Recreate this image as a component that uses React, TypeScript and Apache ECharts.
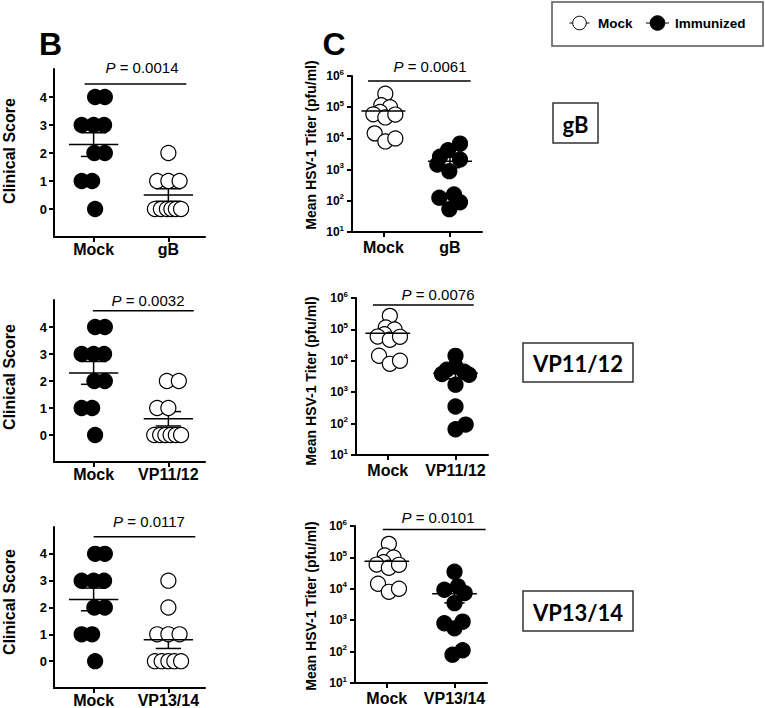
import React, { useEffect, useRef } from 'react';
import * as echarts from 'echarts';

const FONT = '"Liberation Sans", Arial, Helvetica, sans-serif';
const BOXFONT = 'Lato, "Open Sans", sans-serif';

// ---------- data ----------
const treatments = ['gB', 'VP11/12', 'VP13/14'];
const controlName = 'Mock';

// Panel B: clinical scores
const mockScores = [4, 4, 3, 3, 3, 2, 2, 1, 1, 0];
const mockScoreJitter = [0.02, 0.15, -0.16, 0, 0.14, 0.01, 0.15, -0.16, -0.02, 0.02];
const gbScores = [2, 1, 1, 1, 0, 0, 0, 0, 0, 0];
const gbScoreJitter = [0, -0.15, 0, 0.15, -0.18, -0.1, -0.02, 0.04, 0.1, 0.17];
const vp1112Scores = [2, 2, 1, 1, 0, 0, 0, 0, 0, 0];
const vp1112ScoreJitter = [-0.02, 0.14, -0.15, 0, -0.19, -0.11, -0.04, 0.03, 0.1, 0.17];
const vp1314Scores = [3, 2, 1, 1, 1, 0, 0, 0, 0, 0];
const vp1314ScoreJitter = [0, 0, -0.15, 0, 0.15, -0.18, -0.09, 0, 0.08, 0.17];

// Panel C: virus titers (pfu/ml)
const mockTiters = [2.7e5, 1.15e5, 1.0e5, 7.0e4, 5.9e4, 4.7e4, 5.8e4, 1.45e4, 8.0e3, 1.0e4];
const mockTiterJitter = [0.03, -0.03, 0.1, -0.05, -0.15, 0.03, 0.18, -0.13, 0.03, 0.18];
const gbTiters = [6.8e3, 4.2e3, 2.6e3, 2.1e3, 1.45e3, 8.9e2, 1.26e2, 1.6e2, 9.0e1, 5.4e1];
const gbTiterJitter = [0.15, -0.03, -0.15, 0.15, -0.19, -0.01, -0.16, 0.06, 0.15, -0.01];
const vp1112Titers = [1.44e4, 6.6e3, 5.2e3, 4.5e3, 3.6e3, 3.8e3, 1.74e3, 3.5e2, 6.6e1, 9.3e1];
const vp1112TiterJitter = [0, 0, -0.13, 0.13, 0.2, -0.2, 0, 0, 0, 0.15];
const vp1314Titers = [3.5e4, 1.2e4, 9.3e3, 7.3e3, 3.5e3, 9.0e2, 8.0e2, 5.5e2, 1.1e2, 8.0e1];
const vp1314TiterJitter = [0, 0.05, -0.15, 0.15, 0, 0.12, -0.15, 0, 0.12, -0.03];

const scorePValues = ['0.0014', '0.0032', '0.0117'];
const titerPValues = ['0.0061', '0.0076', '0.0101'];
// significance bars: [xStart, xEnd, y]
const scoreSigBars = [[0.88, 2.24, 4.46], [0.99, 2.34, 4.6], [1.0, 2.36, 4.64]];
const titerSigBars = [[0.77, 2.31, 6.9e5], [0.78, 2.27, 6.0e5], [0.94, 2.46, 7.7e5]];

const scoreTickValues = [0, 1, 2, 3, 4];
const groupPositions = [1, 2];

// ---------- helpers ----------
const mean = (a: number[]) => a.reduce((s, v) => s + v, 0) / a.length;
const sem = (a: number[]) => {
  const m = mean(a);
  const v = a.reduce((s, x) => s + (x - m) * (x - m), 0) / (a.length - 1);
  return Math.sqrt(v / a.length);
};

const grids = [
  { left: 54, top: 69, width: 151, height: 168 },
  { left: 54, top: 300, width: 151, height: 162 },
  { left: 54, top: 527, width: 151, height: 161 },
  { left: 352, top: 76, width: 130, height: 156 },
  { left: 356, top: 298, width: 132, height: 157 },
  { left: 355, top: 526, width: 132, height: 157 },
];

function buildOption() {
  const scoreSets = [
    [gbScores, gbScoreJitter],
    [vp1112Scores, vp1112ScoreJitter],
    [vp1314Scores, vp1314ScoreJitter],
  ] as [number[], number[]][];
  const titerSets = [
    [gbTiters, gbTiterJitter],
    [vp1112Titers, vp1112TiterJitter],
    [vp1314Titers, vp1314TiterJitter],
  ] as [number[], number[]][];

  const xAxes: any[] = [];
  const yAxes: any[] = [];
  const series: any[] = [];

  const axisLine = { show: true, onZero: false, lineStyle: { color: '#000', width: 2 } };

  const makeX = (gi: number, min: number, max: number, cats: string[], margin: number) => ({
    type: 'value',
    gridIndex: gi,
    min,
    max,
    axisLine,
    splitLine: { show: false },
    axisTick: { show: true, customValues: groupPositions, length: 5, lineStyle: { color: '#000', width: 2 } },
    axisLabel: {
      customValues: groupPositions,
      formatter: (v: number) => cats[Math.round(v) - 1] || '',
      color: '#000',
      fontFamily: FONT,
      fontWeight: 'bold',
      fontSize: 16,
      margin,
    },
  });

  const errSeries = (gi: number, stats: number[][], meanHalf: number, capHalf: number) => [
    {
      type: 'custom',
      xAxisIndex: gi,
      yAxisIndex: gi,
      silent: true,
      z: 1,
      data: stats,
      renderItem: (params: any, api: any) => {
        const x = api.value(0), m = api.value(1), s = api.value(2);
        const t = api.coord([x, m + s]);
        const b = api.coord([x, m - s]);
        const tl = api.coord([x - capHalf, m + s]);
        const tr = api.coord([x + capHalf, m + s]);
        const bl = api.coord([x - capHalf, m - s]);
        const br = api.coord([x + capHalf, m - s]);
        const st = { stroke: '#000', lineWidth: 1.5 };
        return {
          type: 'group',
          children: [
            { type: 'line', shape: { x1: t[0], y1: t[1], x2: b[0], y2: b[1] }, style: st },
            { type: 'line', shape: { x1: tl[0], y1: tl[1], x2: tr[0], y2: tr[1] }, style: st },
            { type: 'line', shape: { x1: bl[0], y1: bl[1], x2: br[0], y2: br[1] }, style: st },
          ],
        };
      },
    },
    {
      type: 'custom',
      xAxisIndex: gi,
      yAxisIndex: gi,
      silent: true,
      z: 4,
      data: stats,
      renderItem: (params: any, api: any) => {
        const x = api.value(0), m = api.value(1);
        const l = api.coord([x - meanHalf, m]);
        const r = api.coord([x + meanHalf, m]);
        return { type: 'line', shape: { x1: l[0], y1: l[1], x2: r[0], y2: r[1] }, style: { stroke: '#000', lineWidth: 1.5 } };
      },
    },
  ];

  const dotSeries = (gi: number, vals: number[], jit: number[], pos: number, fill: string) => ({
    type: 'scatter',
    xAxisIndex: gi,
    yAxisIndex: gi,
    silent: true,
    z: 2,
    symbol: 'circle',
    symbolSize: 15,
    itemStyle: { color: fill, borderColor: '#000', borderWidth: 1.2, opacity: 1 },
    data: vals.map((v, k) => [pos + jit[k], v]),
  });

  const sigSeries = (gi: number, bar: number[]) => ({
    type: 'line',
    xAxisIndex: gi,
    yAxisIndex: gi,
    silent: true,
    symbol: 'none',
    z: 3,
    lineStyle: { color: '#000', width: 1.5 },
    data: [[bar[0], bar[2]], [bar[1], bar[2]]],
  });

  // Panel B
  for (let i = 0; i < 3; i++) {
    const gi = i;
    xAxes.push(makeX(gi, 0.47, 2.49, [controlName, treatments[i]], 4));
    yAxes.push({
      type: 'value',
      gridIndex: gi,
      min: -1,
      max: 5,
      interval: 1,
      axisLine,
      splitLine: { show: false },
      axisTick: { show: true, customValues: scoreTickValues, length: 5, lineStyle: { color: '#000', width: 2 } },
      axisLabel: {
        customValues: scoreTickValues,
        color: '#000',
        fontFamily: FONT,
        fontWeight: 'bold',
        fontSize: 13,
        margin: 7,
      },
    });
    const [tv, tj] = scoreSets[i];
    series.push(dotSeries(gi, mockScores, mockScoreJitter, 1, '#000'));
    series.push(dotSeries(gi, tv, tj, 2, '#fff'));
    series.push(...errSeries(gi, [[1, mean(mockScores), sem(mockScores)], [2, mean(tv), sem(tv)]], 0.33, 0.17));
    series.push(sigSeries(gi, scoreSigBars[i]));
  }

  // Panel C
  for (let i = 0; i < 3; i++) {
    const gi = 3 + i;
    xAxes.push(makeX(gi, 0.53, 2.48, [controlName, treatments[i]], 7));
    yAxes.push({
      type: 'log',
      logBase: 10,
      gridIndex: gi,
      min: 10,
      max: 1e6,
      axisLine,
      splitLine: { show: false },
      minorTick: { show: false },
      axisTick: { show: true, length: 5, lineStyle: { color: '#000', width: 2 } },
      axisLabel: {
        margin: 8,
        formatter: (v: number) => '{b|10}{s|' + Math.round(Math.log10(v)) + '}',
        rich: {
          b: { fontFamily: FONT, fontWeight: 'bold', fontSize: 12, color: '#000', lineHeight: 16 },
          s: { fontFamily: FONT, fontWeight: 'bold', fontSize: 8, color: '#000', lineHeight: 10, verticalAlign: 'top' },
        },
      },
    });
    const [tv, tj] = titerSets[i];
    series.push(dotSeries(gi, mockTiters, mockTiterJitter, 1, '#fff'));
    series.push(dotSeries(gi, tv, tj, 2, '#000'));
    series.push(...errSeries(gi, [[1, mean(mockTiters), sem(mockTiters)], [2, mean(tv), sem(tv)]], 0.33, 0.15));
    series.push(sigSeries(gi, titerSigBars[i]));
  }

  const pText = (x: number, y: number, p: string) => ({
    type: 'text',
    x,
    y,
    style: {
      text: '{i|P}{n| = ' + p + '}',
      align: 'center',
      verticalAlign: 'middle',
      rich: {
        i: { fontFamily: FONT, fontSize: 15, fontStyle: 'italic', fill: '#000' },
        n: { fontFamily: FONT, fontSize: 15, fill: '#000' },
      },
    },
  });

  const vText = (x: number, y: number, text: string, size: number) => ({
    type: 'text',
    x,
    y,
    rotation: Math.PI / 2,
    style: { text, fontFamily: FONT, fontWeight: 'bold', fontSize: size, fill: '#000', align: 'center', verticalAlign: 'middle' },
  });

  const boxLabel = (x: number, y: number, w: number, h: number, text: string) => [
    { type: 'rect', shape: { x, y, width: w, height: h }, style: { fill: '#fff', stroke: '#333', lineWidth: 1.5 } },
    {
      type: 'text',
      x: x + w / 2,
      y: y + h / 2 + 1,
      style: { text, fontFamily: BOXFONT, fontWeight: 'bold', fontSize: 22, fill: '#000', align: 'center', verticalAlign: 'middle' },
    },
  ];

  const graphic: any[] = [
    { type: 'text', x: 50.5, y: 44, style: { text: 'B', fontFamily: FONT, fontWeight: 'bold', fontSize: 32, fill: '#000', align: 'center', verticalAlign: 'middle' } },
    { type: 'text', x: 334, y: 44, style: { text: 'C', fontFamily: FONT, fontWeight: 'bold', fontSize: 32, fill: '#000', align: 'center', verticalAlign: 'middle' } },
    pText(142, 67, scorePValues[0]),
    pText(148, 300, scorePValues[1]),
    pText(149, 521, scorePValues[2]),
    pText(430, 66, titerPValues[0]),
    pText(438, 294, titerPValues[1]),
    pText(438, 517, titerPValues[2]),
    vText(9, 151, 'Clinical Score', 16),
    vText(9, 377, 'Clinical Score', 16),
    vText(9, 602, 'Clinical Score', 16),
    vText(311, 145, 'Mean HSV-1 Titer (pfu/ml)', 14),
    vText(311, 381, 'Mean HSV-1 Titer (pfu/ml)', 14),
    vText(311, 606, 'Mean HSV-1 Titer (pfu/ml)', 14),
    // legend
    { type: 'rect', shape: { x: 552, y: 2, width: 211, height: 44 }, style: { fill: '#fff', stroke: '#555', lineWidth: 1.5 } },
    { type: 'line', shape: { x1: 569.5, y1: 23, x2: 573, y2: 23 }, style: { stroke: '#000', lineWidth: 1 } },
    { type: 'line', shape: { x1: 586, y1: 23, x2: 589.5, y2: 23 }, style: { stroke: '#000', lineWidth: 1 } },
    { type: 'circle', shape: { cx: 579.5, cy: 23, r: 6.8 }, style: { fill: '#fff', stroke: '#000', lineWidth: 1 } },
    { type: 'text', x: 598, y: 23.5, style: { text: 'Mock', fontFamily: FONT, fontWeight: 'bold', fontSize: 13.5, fill: '#000', align: 'left', verticalAlign: 'middle' } },
    { type: 'line', shape: { x1: 646, y1: 23, x2: 669, y2: 23 }, style: { stroke: '#000', lineWidth: 1 } },
    { type: 'circle', shape: { cx: 657.5, cy: 23, r: 7.3 }, style: { fill: '#000', stroke: '#000', lineWidth: 1 } },
    { type: 'text', x: 675, y: 23.5, style: { text: 'Immunized', fontFamily: FONT, fontWeight: 'bold', fontSize: 13.5, fill: '#000', align: 'left', verticalAlign: 'middle' } },
    ...boxLabel(553, 103, 45, 40, 'gB'),
    ...boxLabel(523, 343, 110, 39, 'VP11/12'),
    ...boxLabel(523, 591, 110, 40, 'VP13/14'),
  ];

  return {
    animation: false,
    backgroundColor: '#fff',
    grid: grids.map((g) => ({ ...g, containLabel: false })),
    xAxis: xAxes,
    yAxis: yAxes,
    series,
    graphic,
  };
}

export default function App() {
  const ref = useRef<HTMLDivElement>(null);
  useEffect(() => {
    const el = ref.current;
    if (!el) return;
    const chart = echarts.init(el, undefined, { renderer: 'svg' });
    chart.setOption(buildOption() as any);
    return () => chart.dispose();
  }, []);
  return (
    <div
      ref={ref}
      style={{ position: 'fixed', left: 0, top: 0, width: 765, height: 708, background: '#fff' }}
    />
  );
}
